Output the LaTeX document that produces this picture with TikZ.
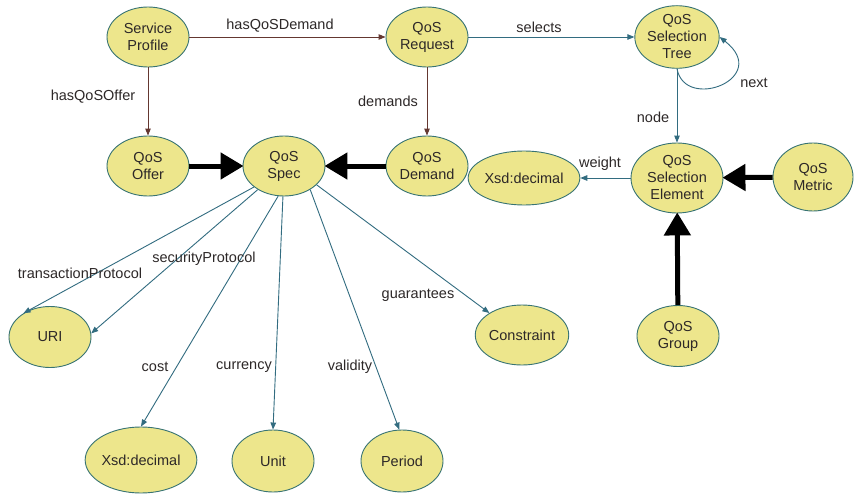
\documentclass[tikz,border=0pt]{standalone}
\usepackage{fontspec}
\setmainfont{Liberation Sans}
\usetikzlibrary{shapes.geometric,arrows.meta}

\definecolor{nodefill}{RGB}{237,230,140}
\definecolor{nodeline}{RGB}{55,115,115}
\definecolor{tealedge}{RGB}{50,108,128}
\definecolor{brownedge}{RGB}{100,55,48}
\definecolor{labeltext}{RGB}{45,40,40}

\tikzset{
  concept/.style={ellipse, draw=nodeline, line width=0.9pt, fill=nodefill,
    inner sep=0pt, minimum width=82pt, minimum height=60pt, align=center,
    font=\fontsize{14.5}{17}\selectfont, text=labeltext},
  rel/.style={line width=0.9pt, -{Triangle[length=7pt,width=5.5pt]}},
  tealrel/.style={rel, draw=tealedge},
  brownrel/.style={rel, draw=brownedge},
  strong/.style={line width=5pt, draw=black, -{Triangle[length=23pt,width=26pt]}, shorten >=-1pt},
  edgelabel/.style={font=\fontsize{14.5}{17}\selectfont, text=labeltext, inner sep=1pt}
}

\begin{document}
\begin{tikzpicture}[x=1pt,y=-1pt]
\useasboundingbox (0,0) rectangle (854,495);
\fill[white] (0,0) rectangle (854,495);

% concepts
\node[concept] (profile) at (148,37) {Service\\Profile};
\node[concept] (request) at (427,37) {QoS\\Request};
\node[concept, minimum height=62pt] (tree) at (677,37) {QoS\\Selection\\Tree};
\node[concept] (offer) at (148,166) {QoS\\Offer};
\node[concept] (spec) at (284,166) {QoS\\Spec};
\node[concept] (demand) at (427,166) {QoS\\Demand};
\node[concept, minimum width=96pt, minimum height=54pt] (weightval) at (524,178) {Xsd:decimal};
\node[concept, minimum width=92pt, minimum height=70pt] (element) at (677,178) {QoS\\Selection\\Element};
\node[concept, minimum width=80pt, minimum height=68pt] (metric) at (813,177) {QoS\\Metric};
\node[concept, minimum height=61pt] (group) at (678,336) {QoS\\Group};
\node[concept, minimum height=61pt] (uri) at (50,337) {URI};
\node[concept] (constraint) at (522,335) {Constraint};
\node[concept, minimum width=92pt, minimum height=66pt] (costval) at (141,460) {Xsd:decimal};
\node[concept, minimum height=62pt] (unit) at (273,461) {Unit};
\node[concept, minimum height=62pt] (period) at (402,461) {Period};

% properties
\draw[brownrel] (profile) -- (request);
\draw[brownrel] (profile) -- (offer);
\draw[brownrel] (request) -- (demand);
\draw[tealrel] (request) -- (tree);
\draw[tealrel] (tree) -- (element);
\draw[tealrel] (tree.south) .. controls (685,112) and (772,78) .. (tree.east);
\draw[tealrel] (element) -- (weightval);

\draw[tealrel] (spec.215) -- (uri.138);
\draw[tealrel] (spec.222) -- (uri.5);
\draw[tealrel] (spec.259) -- (costval.north);
\draw[tealrel] (spec.268) -- (unit.north);
\draw[tealrel] (spec.318) -- (period.95);
\draw[tealrel] (spec.330) -- (constraint.146);

% subclass links
\draw[strong] (offer) -- (spec);
\draw[strong] (demand) -- (spec);
\draw[strong] (metric) -- (element);
\draw[strong] (group) -- (element);

% property names
\node[edgelabel] (lhasdemand) at (280,26) {hasQoSDemand};
\node[edgelabel] (lhasoffer) at (93,97) {hasQoSOffer};
\node[edgelabel] (ldemands) at (388,101) {demands};
\node[edgelabel] (lselects) at (539,27) {selects};
\node[edgelabel] (lnext) at (754,83) {next};
\node[edgelabel] (lnode) at (653,117) {node};
\node[edgelabel] (lweight) at (600,164) {weight};
\node[edgelabel] (ltransaction) at (80,273) {transactionProtocol};
\node[edgelabel] (lsecurity) at (204,259) {securityProtocol};
\node[edgelabel] (lguarantees) at (418,295) {guarantees};
\node[edgelabel] (lcost) at (155,367) {cost};
\node[edgelabel] (lcurrency) at (244,367) {currency};
\node[edgelabel] (lvalidity) at (350,367) {validity};
\end{tikzpicture}
\end{document}
